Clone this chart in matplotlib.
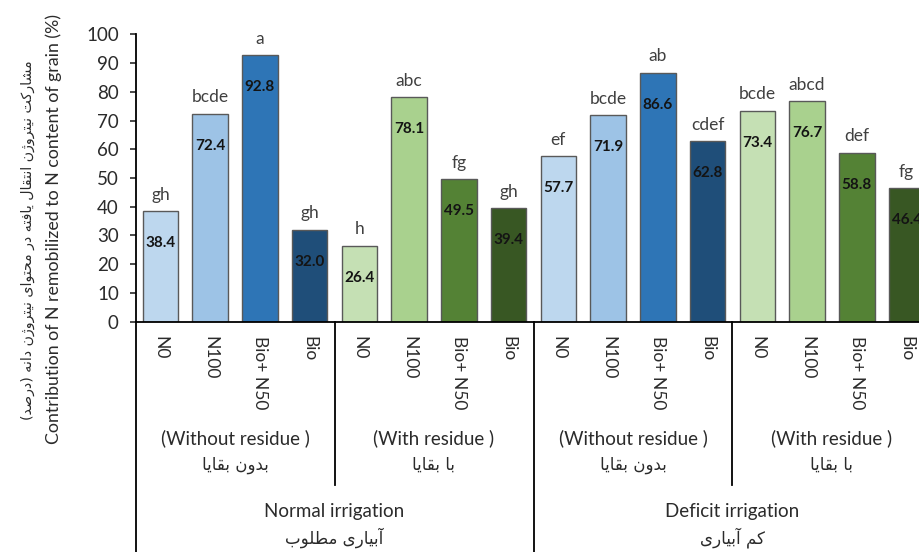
import matplotlib
matplotlib.use("Agg")
import matplotlib.pyplot as plt
from matplotlib.transforms import blended_transform_factory

plt.rcParams['font.family'] = ['Lato', 'DejaVu Sans']

# data
treatments = ['N0', 'N100', 'Bio+ N50', 'Bio'] * 4
values = [38.4, 72.4, 92.8, 32.0, 26.4, 78.1, 49.5, 39.4,
          57.7, 71.9, 86.6, 62.8, 73.4, 76.7, 58.8, 46.4]
letters = ['gh', 'bcde', 'a', 'gh', 'h', 'abc', 'fg', 'gh',
           'ef', 'bcde', 'ab', 'cdef', 'bcde', 'abcd', 'def', 'fg']
blues = ['#bdd7ee', '#9dc3e6', '#2e75b6', '#1f4e79']
greens = ['#c5e0b4', '#a9d18e', '#548235', '#385723']
colors = (blues + greens) * 2

residue_en = ['(Without residue )', '(With residue )'] * 2
residue_fa = ['بدون بقایا', 'با بقایا'] * 2
irrig_en = ['Normal irrigation', 'Deficit irrigation']
irrig_fa = ['آبیاری مطلوب', 'کم آبیاری']
ylabel_en = 'Contribution of N remobilized to N content of grain (%)'
ylabel_fa = 'مشارکت نیتروژن انتقال یافته در محتوای نیتروژن دانه (درصد)'

# simple Persian shaping (matplotlib has no complex text layout)
FORMS = {
    'ا': ('\uFE8D', '\uFE8E', None, None),
    'آ': ('\uFE81', '\uFE82', None, None),
    'ب': ('\uFE8F', '\uFE90', '\uFE91', '\uFE92'),
    'ت': ('\uFE95', '\uFE96', '\uFE97', '\uFE98'),
    'ح': ('\uFEA1', '\uFEA2', '\uFEA3', '\uFEA4'),
    'د': ('\uFEA9', '\uFEAA', None, None),
    'ر': ('\uFEAD', '\uFEAE', None, None),
    'ژ': ('\uFB8A', '\uFB8B', None, None),
    'ش': ('\uFEB5', '\uFEB6', '\uFEB7', '\uFEB8'),
    'ص': ('\uFEB9', '\uFEBA', '\uFEBB', '\uFEBC'),
    'ط': ('\uFEC1', '\uFEC2', '\uFEC3', '\uFEC4'),
    'ف': ('\uFED1', '\uFED2', '\uFED3', '\uFED4'),
    'ق': ('\uFED5', '\uFED6', '\uFED7', '\uFED8'),
    'ک': ('\uFB8E', '\uFB8F', '\uFB90', '\uFB91'),
    'ل': ('\uFEDD', '\uFEDE', '\uFEDF', '\uFEE0'),
    'م': ('\uFEE1', '\uFEE2', '\uFEE3', '\uFEE4'),
    'ن': ('\uFEE5', '\uFEE6', '\uFEE7', '\uFEE8'),
    'ه': ('\uFEE9', '\uFEEA', '\uFEEB', '\uFEEC'),
    'و': ('\uFEED', '\uFEEE', None, None),
    'ی': ('\uFBFC', '\uFBFD', '\uFBFE', '\uFBFF'),
}


def fa(s):
    out = []
    for i, c in enumerate(s):
        if c not in FORMS:
            out.append(c)
            continue
        prev = s[i - 1] if i > 0 else ''
        nxt = s[i + 1] if i + 1 < len(s) else ''
        iso, fin, ini, med = FORMS[c]
        jp = prev in FORMS and FORMS[prev][2] is not None
        jn = ini is not None and nxt in FORMS
        if jp and jn:
            out.append(med)
        elif jp:
            out.append(fin)
        elif jn:
            out.append(ini)
        else:
            out.append(iso)
    vis = ''.join(reversed(out))
    return vis.translate(str.maketrans('()', ')('))


txt = '#2b2b2b'

fig = plt.figure(figsize=(9.2, 5.52), dpi=100)
ax = fig.add_axes([135.5 / 920, (552 - 321.7) / 552, 796 / 920, 287.4 / 552])

x = list(range(len(values)))
bars = ax.bar(x, values, width=0.71, color=colors, edgecolor='#595959', linewidth=1.0, zorder=2)

for xi, v, lab in zip(x, values, letters):
    ax.annotate(lab, (xi, v), xytext=(0, 6), textcoords='offset points',
                ha='center', va='bottom', fontsize=12.5, color='#404040')
    ax.annotate('%.1f' % v, (xi, v), xytext=(0, -23), textcoords='offset points',
                ha='center', va='center', fontsize=11, fontweight='bold', color='#141414')

ax.set_xlim(-0.5, 15.5)
ax.set_ylim(0, 100)
ax.set_yticks(range(0, 101, 10))
ax.tick_params(axis='y', direction='out', length=4, width=1.2, pad=8, labelsize=13.5, colors=txt)
ax.set_xticks(x)
ax.set_xticklabels(treatments, rotation=270, fontsize=12.5, color=txt)
ax.tick_params(axis='x', length=0, pad=10)

for s in ['top', 'right']:
    ax.spines[s].set_visible(False)
ax.spines['left'].set_linewidth(1.3)
ax.spines['bottom'].set_linewidth(1.3)

tr = blended_transform_factory(ax.transData, ax.transAxes)

# group separator lines below the axis
for xb in [-0.5, 7.5]:
    ax.plot([xb, xb], [0, -1.0], color='black', lw=1.3, transform=tr, clip_on=False)
for xb in [3.5, 11.5]:
    ax.plot([xb, xb], [0, -0.568], color='black', lw=1.3, transform=tr, clip_on=False)

for i in range(4):
    xc = i * 4 + 1.5
    ax.text(xc, -0.405, residue_en[i], transform=tr, ha='center', va='center',
            fontsize=13.5, color=txt)
    ax.text(xc, -0.499, fa(residue_fa[i]), transform=tr, ha='center', va='center',
            fontsize=12, color=txt, family=['DejaVu Sans'])

for i in range(2):
    xc = i * 8 + 3.5
    ax.text(xc, -0.662, irrig_en[i], transform=tr, ha='center', va='center',
            fontsize=13.5, color=txt)
    ax.text(xc, -0.753, fa(irrig_fa[i]), transform=tr, ha='center', va='center',
            fontsize=12, color=txt, family=['DejaVu Sans'])

fig.text(54 / 920, 1 - 229 / 552, ylabel_en, rotation=90, ha='center', va='center',
         fontsize=12.8, color=txt)
fig.text(28 / 920, 1 - 240 / 552, fa(ylabel_fa), rotation=90, ha='center', va='center',
         fontsize=10.2, color=txt, family=['DejaVu Sans'])

fig.savefig('out.png', dpi=100)
